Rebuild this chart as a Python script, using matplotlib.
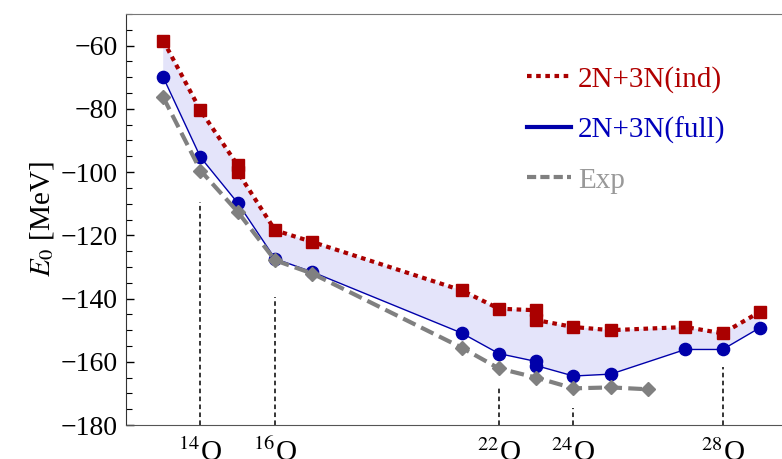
import numpy as np
import matplotlib
matplotlib.use('Agg')
import matplotlib.pyplot as plt
from matplotlib.lines import Line2D

plt.rcParams['font.family'] = ['Liberation Serif', 'DejaVu Serif']
plt.rcParams['mathtext.fontset'] = 'stix'

# ground state energies of oxygen isotopes (MeV)
a_ind = [13, 14, 15, 15, 16, 17, 21, 22, 23, 23, 24, 25, 27, 28, 29]
e_ind = [-58.4, -80.5, -97.9, -100.0, -118.4, -122.1, -137.4, -143.2,
         -143.7, -146.8, -149.0, -150.0, -149.0, -151.0, -144.2]

a_full = [13, 14, 15, 16, 17, 21, 22, 23, 23, 24, 25, 27, 28, 29]
e_full = [-70.0, -95.3, -109.8, -127.4, -131.6, -150.9, -157.4, -159.9,
          -161.2, -164.5, -163.9, -156.1, -156.1, -149.2]

a_exp = [13, 14, 15, 16, 17, 21, 22, 23, 24, 25, 26]
e_exp = [-76.3, -99.5, -112.6, -127.9, -132.1, -155.5, -162.1, -165.0,
         -168.4, -168.1, -168.7]

# marked isotopes and where their guide lines start
magic_a = [14, 16, 22, 24, 28]
magic_top = [-109.6, -139.6, -168.3, -174.6, -161.7]
magic_labels = [r'$^{14}$O', r'$^{16}$O', r'$^{22}$O', r'$^{24}$O', r'$^{28}$O']

red = '#aa0000'
blue = '#0000aa'
grey = '#808080'

fig = plt.figure(figsize=(7.82, 4.59), dpi=100)
ax = fig.add_axes([0.161, 0.074, 0.849, 0.8955])

# band between the two calculations
poly_x = np.concatenate([a_ind, a_full[::-1]])
poly_y = np.concatenate([e_ind, e_full[::-1]])
ax.fill(poly_x, poly_y, color='#e4e4fa', lw=0, zorder=1)

ax.vlines(magic_a, -180, magic_top, colors='black', linestyles=(0, (3, 2.2)),
          lw=1.1, zorder=2)

ax.plot(a_ind, e_ind, color=red, lw=3, ls=(0, (1.1, 1.1)), marker='s', ms=8.3,
        zorder=3)
ax.plot(a_full, e_full, color=blue, lw=1, marker='o', ms=8.8, zorder=4)
ax.plot(a_exp, e_exp, color=grey, lw=3, ls=(0, (3.3, 1.5)), marker='D', ms=7.3,
        zorder=5)

ax.set_xlim(12.0, 29.8)
ax.set_ylim(-180, -50)
ax.set_yticks(np.arange(-180, -59, 20))
ax.set_yticks(np.arange(-180, -49, 5), minor=True)
ax.set_xticks(magic_a)
ax.set_xticklabels(magic_labels)
ax.tick_params(axis='y', which='major', direction='in', length=6, width=1,
               labelsize=20, pad=6)
ax.tick_params(axis='y', which='minor', direction='in', length=4, width=0.8)
ax.tick_params(axis='x', which='major', direction='in', length=0, labelsize=21,
               pad=10)
ax.set_ylabel(r'$E_0$ [MeV]', fontsize=21, labelpad=3)

ax.spines['right'].set_visible(False)
ax.spines['top'].set_color('#777777')
ax.spines['bottom'].set_color('#555555')
ax.spines['left'].set_color('#333333')

handles = [Line2D([], [], color=red, lw=3, ls=(0, (1.1, 1.1))),
           Line2D([], [], color=blue, lw=3),
           Line2D([], [], color=grey, lw=3, ls=(0, (2.2, 1)))]
leg = ax.legend(handles, ['2N+3N(ind)', '2N+3N(full)', 'Exp'],
                loc='upper left', bbox_to_anchor=(0.604, 0.874), frameon=False,
                fontsize=21, handlelength=1.5, handletextpad=0.25,
                labelspacing=0.81, borderpad=0, borderaxespad=0)
for t, c in zip(leg.get_texts(), ['#b00000', '#0000bb', '#999999']):
    t.set_color(c)

fig.savefig('out.png', dpi=100)
